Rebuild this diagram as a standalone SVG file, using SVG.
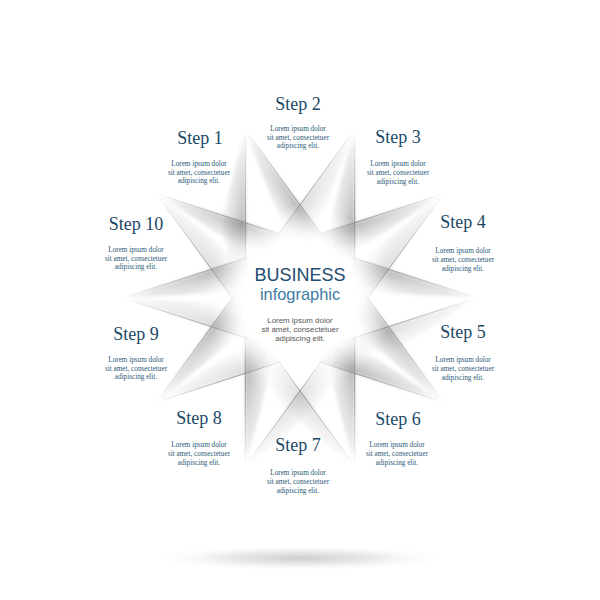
<svg xmlns="http://www.w3.org/2000/svg" xmlns:xlink="http://www.w3.org/1999/xlink" width="600" height="600" viewBox="0 0 600 600">
<defs>
<style>
.st{font-family:"Liberation Serif","Times New Roman",serif;fill:#1a4866;font-size:18px;text-anchor:middle}
.ds{font-family:"Liberation Serif","Times New Roman",serif;fill:#2b5876;font-size:7.2px;text-anchor:middle}
.cs{font-family:"Liberation Sans",Arial,sans-serif;text-anchor:middle}
.edge{stroke:#8c8c8c;stroke-width:0.8;fill:none}
.s{opacity:0.9}
.l{opacity:0.45}
</style>
<linearGradient id="lenFade" gradientUnits="userSpaceOnUse" x1="0" y1="-177" x2="0" y2="-50">
<stop offset="0" stop-color="#000"/>
<stop offset="0.25" stop-color="#666"/>
<stop offset="0.68" stop-color="#fff"/>
<stop offset="1" stop-color="#000"/>
</linearGradient>
<mask id="m" maskUnits="userSpaceOnUse" x="-250" y="-250" width="500" height="500">
<rect x="-250" y="-250" width="500" height="500" fill="url(#lenFade)"/>
</mask>
<linearGradient id="gRin" gradientUnits="userSpaceOnUse" x1="28.7" y1="-88.4" x2="4.9" y2="-80.7">
<stop offset="0" stop-color="#7a7a7a" stop-opacity="0.6"/><stop offset="1" stop-color="#7a7a7a" stop-opacity="0"/>
</linearGradient>
<linearGradient id="gRout" gradientUnits="userSpaceOnUse" x1="28.7" y1="-88.4" x2="52.5" y2="-96.1">
<stop offset="0" stop-color="#7a7a7a" stop-opacity="0.6"/><stop offset="1" stop-color="#7a7a7a" stop-opacity="0"/>
</linearGradient>
<linearGradient id="gLin" gradientUnits="userSpaceOnUse" x1="-28.7" y1="-88.4" x2="-4.9" y2="-80.7">
<stop offset="0" stop-color="#7a7a7a" stop-opacity="0.6"/><stop offset="1" stop-color="#7a7a7a" stop-opacity="0"/>
</linearGradient>
<linearGradient id="gLout" gradientUnits="userSpaceOnUse" x1="-28.7" y1="-88.4" x2="-52.5" y2="-96.1">
<stop offset="0" stop-color="#7a7a7a" stop-opacity="0.6"/><stop offset="1" stop-color="#7a7a7a" stop-opacity="0"/>
</linearGradient>
<radialGradient id="ground" cx="0.5" cy="0.5" r="0.5">
<stop offset="0" stop-color="#c4c4c4" stop-opacity="0.85"/>
<stop offset="0.5" stop-color="#d6d6d6" stop-opacity="0.5"/>
<stop offset="1" stop-color="#ffffff" stop-opacity="0"/>
</radialGradient>
<filter id="soft" x="-30%" y="-30%" width="160%" height="160%"><feGaussianBlur stdDeviation="1.4"/></filter>
<polygon id="Rin" points="0,-177 40.5,-52.2 25.3,-47.3 4.9,-80.7" fill="url(#gRin)" mask="url(#m)" filter="url(#soft)"/>
<polygon id="Rout" points="0,-177 40.5,-52.2 55.7,-57.1 52.5,-96.1" fill="url(#gRout)" mask="url(#m)" filter="url(#soft)"/>
<polygon id="Lin" points="0,-177 -40.5,-52.2 -25.3,-47.3 -4.9,-80.7" fill="url(#gLin)" mask="url(#m)" filter="url(#soft)"/>
<polygon id="Lout" points="0,-177 -40.5,-52.2 -55.7,-57.1 -52.5,-96.1" fill="url(#gLout)" mask="url(#m)" filter="url(#soft)"/>
<path id="edges" class="edge" d="M0,-177 L40.5,-52.2 M0,-177 L-40.5,-52.2" mask="url(#m)"/>
</defs>
<rect width="600" height="600" fill="#ffffff"/>
<ellipse cx="300" cy="558" rx="150" ry="13" fill="url(#ground)"/>
<g id="connectors" transform="translate(300,298)">
<g transform="rotate(-18)"><use href="#Rin" class="s"/><use href="#Lout" class="s"/><use href="#edges"/></g>
<g transform="rotate(18)"><use href="#Rin" class="s"/><use href="#Lin" class="l"/><use href="#edges"/></g>
<g transform="rotate(54)"><use href="#Lin" class="s"/><use href="#Rin" class="l"/><use href="#edges"/></g>
<g transform="rotate(90)"><use href="#Lin" class="s"/><use href="#Rout" class="l"/><use href="#edges"/></g>
<g transform="rotate(126)"><use href="#Lin" class="s"/><use href="#Rin" class="s"/><use href="#edges"/></g>
<g transform="rotate(162)"><use href="#Lin" class="s"/><use href="#Rout" class="l"/><use href="#edges"/></g>
<g transform="rotate(198)"><use href="#Rin" class="s"/><use href="#Lout" class="l"/><use href="#edges"/></g>
<g transform="rotate(234)"><use href="#Rin" class="s"/><use href="#Lin" class="l"/><use href="#edges"/></g>
<g transform="rotate(270)"><use href="#Rin" class="s"/><use href="#Lin" class="l"/><use href="#edges"/></g>
<g transform="rotate(306)"><use href="#Rin" class="s"/><use href="#Lin" class="l"/><use href="#edges"/></g>
</g>
<g id="center">
<text class="cs" x="300" y="281" font-size="18" fill="#1f4d6f">BUSINESS</text>
<text class="cs" x="300" y="300" font-size="16.4" fill="#3c7ba3">infographic</text>
<text class="cs" x="300" y="323" font-size="7.9" fill="#555555">Lorem ipsum dolor</text>
<text class="cs" x="300" y="332" font-size="7.9" fill="#555555">sit amet, consectetuer</text>
<text class="cs" x="300" y="341" font-size="7.9" fill="#555555">adipiscing elit.</text>
</g>
<g id="step1"><text class="st" x="200" y="144">Step 1</text><text class="ds" x="199" y="166">Lorem ipsum dolor</text><text class="ds" x="199" y="175">sit amet, consectetuer</text><text class="ds" x="199" y="183">adipiscing elit.</text></g>
<g id="step2"><text class="st" x="298" y="110">Step 2</text><text class="ds" x="298" y="131">Lorem ipsum dolor</text><text class="ds" x="298" y="140">sit amet, consectetuer</text><text class="ds" x="298" y="148">adipiscing elit.</text></g>
<g id="step3"><text class="st" x="398" y="143">Step 3</text><text class="ds" x="398" y="166">Lorem ipsum dolor</text><text class="ds" x="398" y="175">sit amet, consectetuer</text><text class="ds" x="398" y="184">adipiscing elit.</text></g>
<g id="step4"><text class="st" x="463" y="228">Step 4</text><text class="ds" x="463" y="253">Lorem ipsum dolor</text><text class="ds" x="463" y="262">sit amet, consectetuer</text><text class="ds" x="463" y="271">adipiscing elit.</text></g>
<g id="step5"><text class="st" x="463" y="338">Step 5</text><text class="ds" x="463" y="362">Lorem ipsum dolor</text><text class="ds" x="463" y="371">sit amet, consectetuer</text><text class="ds" x="463" y="380">adipiscing elit.</text></g>
<g id="step6"><text class="st" x="398" y="425">Step 6</text><text class="ds" x="397" y="447">Lorem ipsum dolor</text><text class="ds" x="397" y="456">sit amet, consectetuer</text><text class="ds" x="397" y="465">adipiscing elit.</text></g>
<g id="step7"><text class="st" x="298" y="451">Step 7</text><text class="ds" x="298" y="475">Lorem ipsum dolor</text><text class="ds" x="298" y="484">sit amet, consectetuer</text><text class="ds" x="298" y="493">adipiscing elit.</text></g>
<g id="step8"><text class="st" x="199" y="424">Step 8</text><text class="ds" x="199" y="447">Lorem ipsum dolor</text><text class="ds" x="199" y="456">sit amet, consectetuer</text><text class="ds" x="199" y="465">adipiscing elit.</text></g>
<g id="step9"><text class="st" x="136" y="340">Step 9</text><text class="ds" x="136" y="362">Lorem ipsum dolor</text><text class="ds" x="136" y="371">sit amet, consectetuer</text><text class="ds" x="136" y="379">adipiscing elit.</text></g>
<g id="step10"><text class="st" x="136" y="230">Step 10</text><text class="ds" x="136" y="252">Lorem ipsum dolor</text><text class="ds" x="136" y="261">sit amet, consectetuer</text><text class="ds" x="136" y="269">adipiscing elit.</text></g>
</svg>
